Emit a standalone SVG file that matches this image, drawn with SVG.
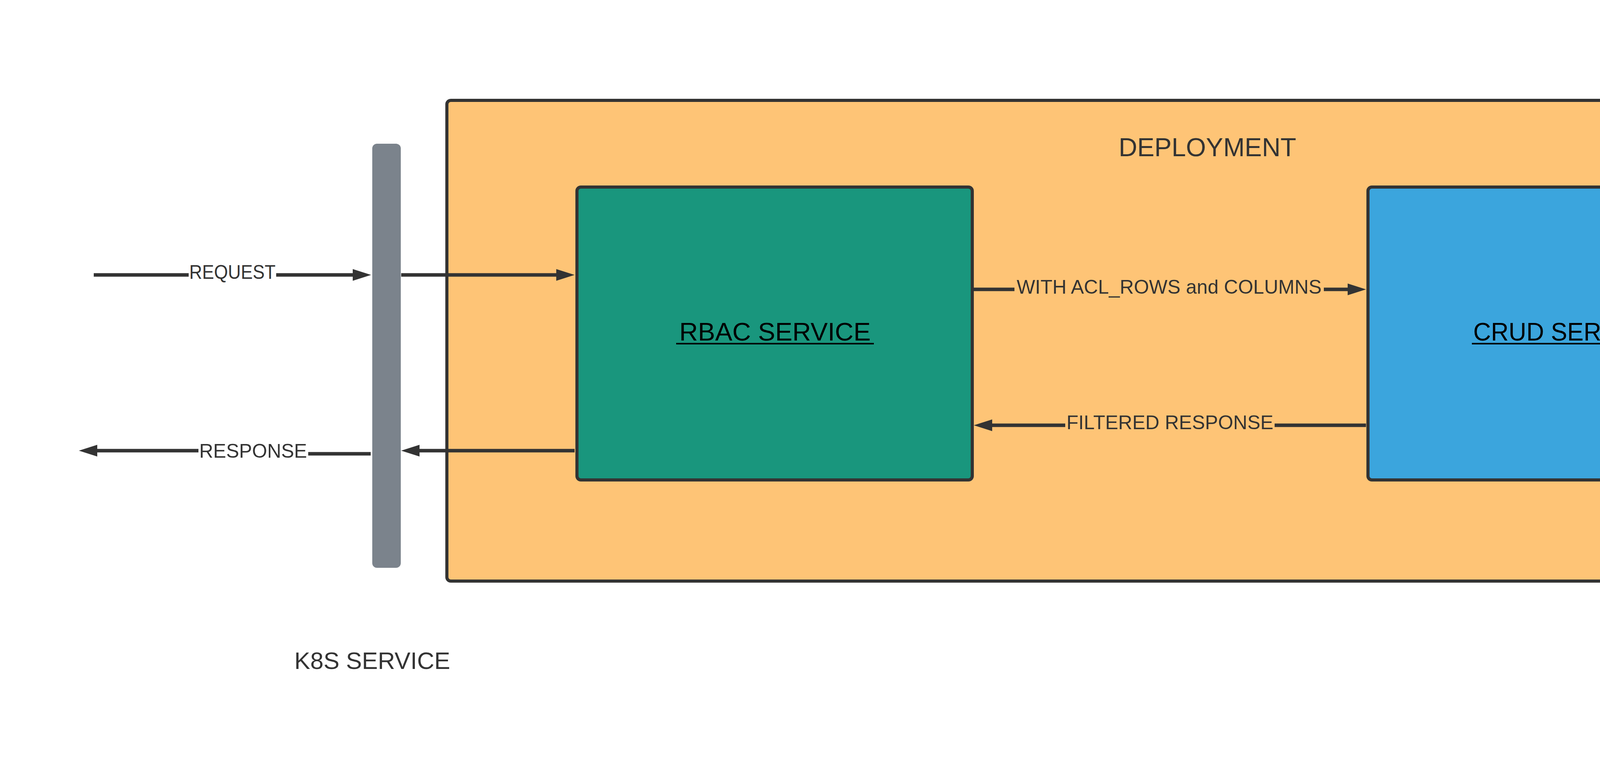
<svg xmlns="http://www.w3.org/2000/svg" width="5351" height="1982" viewBox="0 0 5351 1982">
  <style>
    .box { stroke: #333333; stroke-width: 8; }
    .conn { fill: none; stroke: #333333; stroke-width: 9; }
    .lbl { font-family: "Liberation Sans", Arial, sans-serif; font-size: 50px; fill: #333333; text-anchor: middle; }
    .title { font-family: "Liberation Sans", Arial, sans-serif; fill: #333333; text-anchor: middle; }
    .svc { font-family: "Liberation Sans", Arial, sans-serif; font-size: 64px; fill: #000000; text-anchor: middle; }
    .ul { stroke: #000000; stroke-width: 4; }
  </style>
  <defs>
    <marker id="arrow" markerUnits="userSpaceOnUse" markerWidth="48" markerHeight="32" refX="0" refY="16" orient="auto" overflow="visible">
      <path d="M0,1 L47,16 L0,31 Z" fill="#333333"/>
    </marker>
  </defs>
  <rect width="5351" height="1982" fill="#ffffff"/>

  <g id="deployment">
    <rect class="box" x="1144" y="257" width="3704" height="1231" rx="10" fill="#fec476"/>
    <text class="title" x="3091" y="400" font-size="66">DEPLOYMENT</text>
  </g>

  <g id="k8s-service">
    <rect x="953" y="368" width="73" height="1086" rx="12" fill="#7b838c"/>
    <text class="title" x="953" y="1713" font-size="61">K8S SERVICE</text>
  </g>

  <g id="rbac-service">
    <rect class="box" x="1477" y="479" width="1012" height="750" rx="10" fill="#19967d"/>
    <text class="svc" x="1984" y="872" textLength="490" lengthAdjust="spacingAndGlyphs">RBAC SERVICE</text>
    <line class="ul" x1="1731" y1="880" x2="2237" y2="880"/>
  </g>

  <g id="crud-service">
    <rect class="box" x="3502" y="479" width="1012" height="750" rx="10" fill="#3ba5dd"/>
    <text class="svc" x="4008" y="872" textLength="473" lengthAdjust="spacingAndGlyphs">CRUD SERVICE</text>
    <line class="ul" x1="3768" y1="880" x2="4248" y2="880"/>
  </g>

  <g id="connectors">
    <path class="conn" d="M240 704 H483"/>
    <path class="conn" d="M707 704 H903" marker-end="url(#arrow)"/>
    <text class="lbl" x="595" y="714" textLength="221" lengthAdjust="spacingAndGlyphs">REQUEST</text>

    <path class="conn" d="M1027 704 H1424" marker-end="url(#arrow)"/>

    <path class="conn" d="M2493 741 H2597"/>
    <path class="conn" d="M3389 741 H3450" marker-end="url(#arrow)"/>
    <text class="lbl" x="2993" y="752">WITH ACL_ROWS and COLUMNS</text>

    <path class="conn" d="M3497 1089 H3263"/>
    <path class="conn" d="M2727 1089 H2540" marker-end="url(#arrow)"/>
    <text class="lbl" x="2995" y="1099">FILTERED RESPONSE</text>

    <path class="conn" d="M1471 1154 H1074" marker-end="url(#arrow)"/>

    <path class="conn" d="M949 1162 H789"/>
    <path class="conn" d="M508 1154 H249" marker-end="url(#arrow)"/>
    <text class="lbl" x="648" y="1172" textLength="276" lengthAdjust="spacingAndGlyphs">RESPONSE</text>
  </g>
</svg>
